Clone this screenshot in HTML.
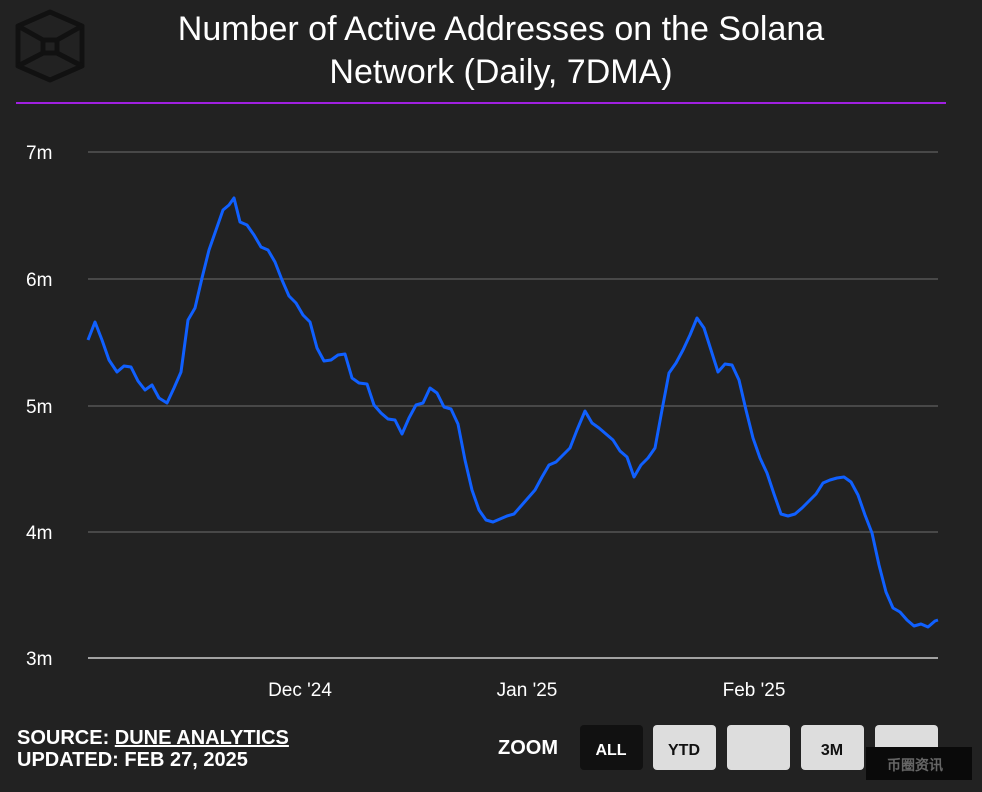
<!DOCTYPE html>
<html><head><meta charset="utf-8"><style>
body{margin:0;width:982px;height:792px;background:#222222;overflow:hidden;font-family:"Liberation Sans",sans-serif;color:#fff}
</style></head><body>
<svg width="982" height="792" viewBox="0 0 982 792" style="position:absolute;left:0;top:0">
<g fill="none" stroke="#111" stroke-width="5" stroke-linejoin="round">
<polygon points="50,12 82,26 82,66 50,80 18,66 18,26"/>
<line x1="18" y1="26" x2="43" y2="40"/><line x1="82" y1="26" x2="57" y2="40"/>
<line x1="18" y1="66" x2="43" y2="53"/><line x1="82" y1="66" x2="57" y2="53"/>
<rect x="43" y="40" width="14" height="13"/>
</g>
<line x1="16" y1="103" x2="946" y2="103" stroke="#a020e0" stroke-width="2"/>
<text x="501" y="40" text-anchor="middle" font-size="34" fill="#fff">Number of Active Addresses on the Solana</text>
<text x="501" y="83" text-anchor="middle" font-size="34" fill="#fff">Network (Daily, 7DMA)</text>
<g stroke="#555" stroke-width="1.5">
<line x1="88" y1="152" x2="938" y2="152"/><line x1="88" y1="279" x2="938" y2="279"/>
<line x1="88" y1="406" x2="938" y2="406"/><line x1="88" y1="532" x2="938" y2="532"/>
</g>
<line x1="88" y1="658" x2="938" y2="658" stroke="#ccc" stroke-width="1.5"/>
<g font-size="19" fill="#fff">
<text x="26" y="159">7m</text><text x="26" y="286">6m</text><text x="26" y="413">5m</text><text x="26" y="539">4m</text><text x="26" y="665">3m</text>
<text x="300" y="696" text-anchor="middle">Dec '24</text><text x="527" y="696" text-anchor="middle">Jan '25</text><text x="754" y="696" text-anchor="middle">Feb '25</text>
</g>
<polyline fill="none" stroke="#1060ff" stroke-width="3" stroke-linejoin="round" points="88,340 95,322 102,340 109,360 117,372 124,366 131,367 138,381 145,390 152,385 159,398 167,403 174,388 181,372 188,320 195,308 202,278 209,250 216,230 223,210 229,205 234,198 240,222 247,225 254,235 261,247 268,250 275,262 282,280 289,296 296,303 303,315 310,322 317,348 324,361 331,360 338,355 345,354 352,378 359,383 367,384 374,405 381,413 388,419 395,420 402,434 409,418 416,405 423,403 430,388 437,393 444,407 451,409 458,424 465,460 472,490 479,510 486,520 493,522 500,519 507,516 514,514 521,506 528,498 535,490 542,477 549,465 556,462 563,455 570,448 577,430 585,411 592,423 599,428 606,434 613,440 620,451 627,457 634,477 641,465 648,458 655,448 662,410 669,373 676,363 683,350 690,335 697,318 704,328 711,350 718,372 725,364 732,365 739,380 746,410 753,438 760,458 767,473 774,494 781,514 788,516 795,514 802,508 809,501 816,494 823,483 830,480 837,478 844,477 851,482 858,495 865,515 872,533 879,565 886,592 893,608 900,612 907,620 914,626 921,624 928,627 935,621 938,620"/>
<g font-weight="bold" font-size="20" fill="#fff">
<text x="17" y="744">SOURCE: <tspan text-decoration="underline">DUNE ANALYTICS</tspan></text>
<text x="17" y="766">UPDATED: FEB 27, 2025</text>
<text x="498" y="754">ZOOM</text>
</g>
<g font-weight="bold" font-size="16">
<rect x="580" y="725" width="63" height="45" rx="4" fill="#111"/><text x="611" y="755" text-anchor="middle" fill="#fff">ALL</text>
<rect x="653" y="725" width="63" height="45" rx="4" fill="#ddd"/><text x="684" y="755" text-anchor="middle" fill="#111">YTD</text>
<rect x="727" y="725" width="63" height="45" rx="4" fill="#ddd"/>
<rect x="801" y="725" width="63" height="45" rx="4" fill="#ddd"/><text x="832" y="755" text-anchor="middle" fill="#111">3M</text>
<rect x="875" y="725" width="63" height="45" rx="4" fill="#ddd"/>
<rect x="866" y="747" width="106" height="33" fill="#0a0a0a"/>
<text x="915" y="770" text-anchor="middle" fill="#666" font-size="14">币圈资讯</text>
</g>
</svg>
</body></html>
